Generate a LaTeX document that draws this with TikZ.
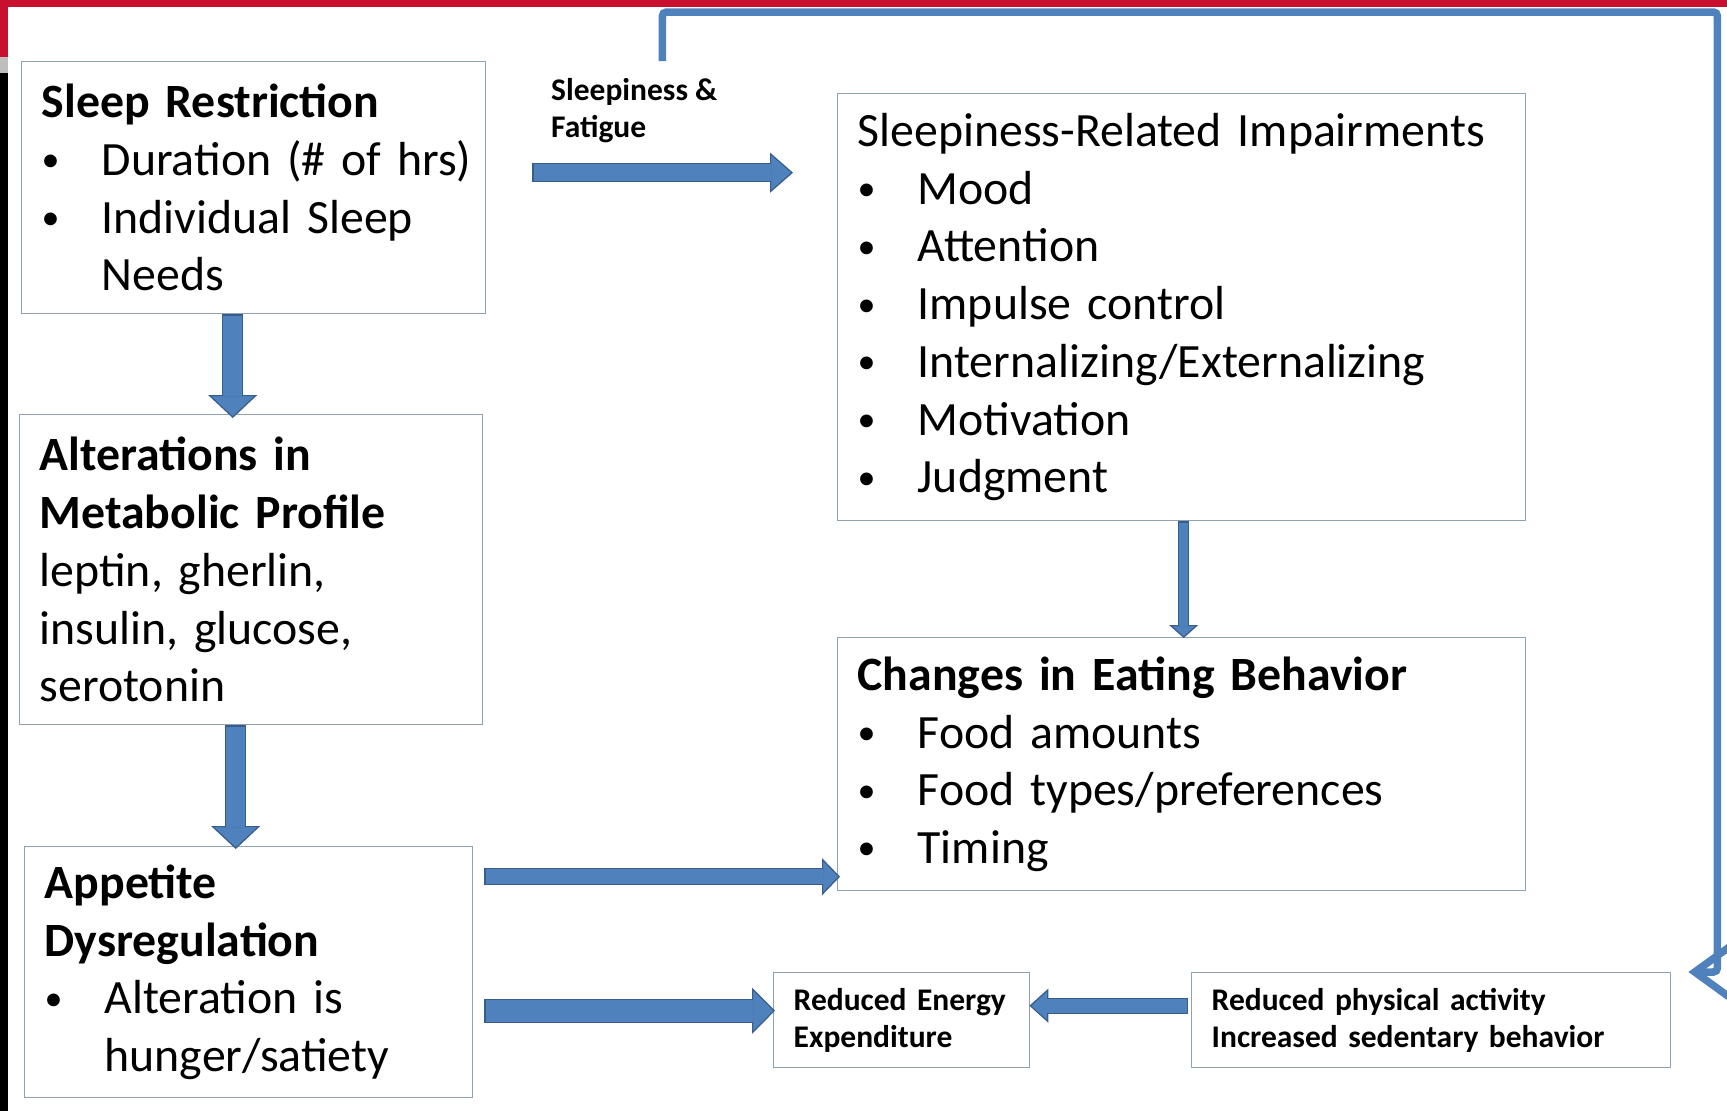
\documentclass[tikz,border=0pt]{standalone}
\usepackage{fontspec}
\setmainfont{Carlito}
\usetikzlibrary{arrows.meta,calc}
\definecolor{boxline}{HTML}{8EA2B4}
\definecolor{arrfill}{HTML}{4F81BD}
\definecolor{arredge}{HTML}{385D8A}
\definecolor{slidered}{HTML}{C8102E}
\definecolor{slidegray}{HTML}{BEBEBE}
\newcommand{\boxfont}{\fontsize{47.8}{57.7}\selectfont\spaceskip=0.226em\relax}
\newcommand{\smallfont}{\fontsize{31.5}{37}\selectfont\bfseries\spaceskip=0.226em\relax}
\newcommand{\bul}{\makebox[60pt][l]{\raisebox{3.5pt}{\fontsize{36}{36}\selectfont\textbullet}}}
\newcommand{\ind}{\hspace*{60pt}}
\tikzset{
  box/.style={draw=boxline, line width=1.4pt, fill=white, anchor=north west, align=left, inner xsep=20pt, inner ysep=0pt, font=\boxfont},
  smallbox/.style={box, font=\smallfont},
  lbl/.style={anchor=north west, inner sep=0pt, align=left, font=\smallfont},
  fat/.style n args={4}{draw=arredge, line width=#1, -{Triangle[length=#3, width=#2, line width=1.2pt, fill=arrfill]},
    postaction={draw=arrfill, line width=#4, -, shorten >=#3-1pt, shorten <=1.2pt}},
  loopline/.style={draw=arrfill, line width=7.5pt, rounded corners=4pt, -{Straight Barb[length=40pt, width=58pt]}},
}
\begin{document}
\begin{tikzpicture}[x=1pt, y=-1pt]
  \useasboundingbox (0,0) rectangle (1727,1111);
  \fill[white] (0,0) rectangle (1727,1111);
  % slide frame
  \fill[slidered] (0,0) rectangle (1727,7);
  \fill[slidered] (0,0) rectangle (8,57);
  \fill[slidegray] (0,57) rectangle (8,73);
  \fill[black] (0,73) rectangle (8,1111);

  % boxes
  \node[box, text width=424pt, minimum height=252pt] (sr) at (21,61)
    {\textbf{Sleep Restriction}\\\bul\mbox{Duration (\# of hrs)}\\\bul Individual Sleep\\\ind Needs};
  \node[box, text width=423pt, minimum height=310pt] (amp) at (19,414)
    {\textbf{Alterations in}\\\textbf{Metabolic Profile}\\leptin, gherlin,\\insulin, glucose,\\serotonin};
  \node[box, text width=408pt, minimum height=251pt] (ad) at (24,846)
    {\textbf{Appetite}\\\textbf{Dysregulation}\\\bul Alteration is\\\ind hunger/satiety};
  \node[box, text width=648pt, minimum height=427pt] (sri) at (837,93)
    {Sleepiness-Related Impairments\\\bul Mood\\\bul Attention\\\bul Impulse control\\\bul Internalizing/Externalizing\\\bul Motivation\\\bul Judgment};
  \node[box, text width=648pt, minimum height=253pt] (ceb) at (837,637)
    {\textbf{Changes in Eating Behavior}\\\bul Food amounts\\\bul Food types/preferences\\\bul Timing};
  \node[smallbox, text width=216pt, minimum height=95pt] (ree) at (773,972)
    {Reduced Energy\\Expenditure};
  \node[smallbox, text width=439pt, minimum height=95pt] (rpa) at (1191,972)
    {Reduced physical activity\\Increased sedentary behavior};
  \node[lbl] (sf) at (551,78) {Sleepiness \&\\Fatigue};

  % block arrows
  \draw[fat={19pt}{40pt}{23pt}{16.6pt}] ([xshift=46pt,yshift=15pt]sr.east) coordinate (a1) -- ($(a1 -| sri.west)+(-44,0)$);
  \draw[fat={21pt}{49pt}{23pt}{18.6pt}] ([xshift=-21pt]sr.south) coordinate (a2) -- ($(a2 |- amp.north)+(0,4)$);
  \draw[fat={21pt}{49pt}{23pt}{18.6pt}] ([xshift=-15.5pt]amp.south) coordinate (a3) -- ($(a3 |- ad.north)+(0,3)$);
  \draw[fat={11pt}{29pt}{13pt}{8.6pt}] ([xshift=2pt]sri.south) coordinate (a4) -- ($(a4 |- ceb.north)+(0,1)$);
  \draw[fat={17pt}{37pt}{18pt}{14.6pt}] ([xshift=11pt,yshift=95.5pt]ad.east) coordinate (a5) -- ($(a5 -| ceb.west)+(3,0)$);
  \draw[fat={24pt}{46pt}{23pt}{21.6pt}] ([xshift=11pt,yshift=-38.5pt]ad.east) coordinate (a6) -- ($(a6 -| ree.west)+(2,0)$);
  \draw[fat={16pt}{34pt}{19pt}{13.6pt}] ([xshift=-3pt,yshift=14.5pt]rpa.west) coordinate (a7) -- ($(a7 -| ree.east)+(-1,0)$);

  % feedback loop
  \coordinate (fb0) at ([xshift=176pt]sr.north east);
  \coordinate (fb1) at ([xshift=17pt]rpa.north east);
  \draw[loopline] (fb0) -- ++(0,-49) -| ([xshift=29pt]fb1) -- (fb1);
\end{tikzpicture}
\end{document}
